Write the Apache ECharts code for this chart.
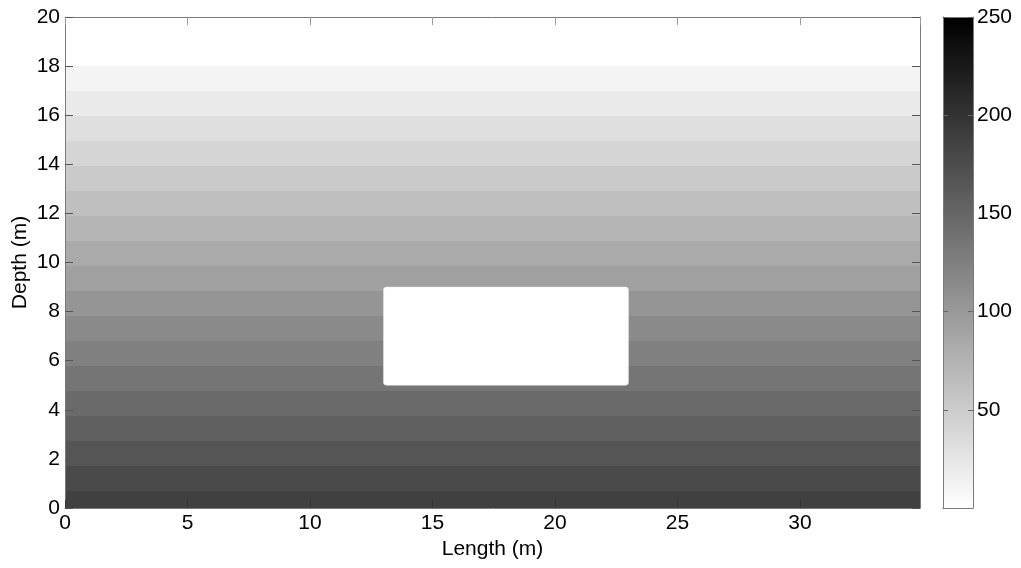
<!DOCTYPE html>
<html>
<head>
<meta charset="utf-8">
<script src="https://cdn.jsdelivr.net/npm/echarts@6/dist/echarts.min.js"></script>
<style>
  html, body { margin: 0; padding: 0; background: #fff; }
  #chart { width: 1021px; height: 568px; }
</style>
</head>
<body>
<div id="chart"></div>
<script>
// Section extent (m)
const lengthMax = 34.9;
const depthMax = 20;

// Filled contour bands: depth edges (top to bottom) and band level
const bandEdges = [18.0, 16.99, 15.97, 14.95, 13.93, 12.91, 11.89, 10.88, 9.86, 8.84,
                   7.82, 6.80, 5.78, 4.77, 3.75, 2.73, 1.71, 0.69, 0];
const bandValues = [11, 21, 31, 41, 52, 63, 73, 83, 93, 104,
                    115, 125, 135, 146, 156, 167, 177, 187];

// Empty cavity in the section
const voidLength = [13, 23];
const voidDepth = [5, 9];

// Colour scale
const cbarRange = [0, 250];
const cbarTicks = [50, 100, 150, 200, 250];

const FONT = 'Liberation Sans, Arial, sans-serif';
const FRAME = '#7a7a7a';

function grayOf(v) {
  const t = (v - cbarRange[0]) / (cbarRange[1] - cbarRange[0]);
  const g = Math.max(0, Math.min(255, Math.round(255 * (1 - t))));
  return 'rgb(' + g + ',' + g + ',' + g + ')';
}

const bandData = bandValues.map((v, i) => [0, lengthMax, bandEdges[i], bandEdges[i + 1], v]);
const voidData = [[voidLength[0], voidLength[1], voidDepth[1], voidDepth[0]]];

function rectItem(params, api, style, r) {
  const p0 = api.coord([api.value(0), api.value(2)]);
  const p1 = api.coord([api.value(1), api.value(3)]);
  return {
    type: 'rect',
    shape: { x: p0[0], y: p0[1], width: p1[0] - p0[0], height: p1[1] - p0[1], r: r || 0 },
    style: style
  };
}

const tickLabel = { color: '#000', fontSize: 21, fontFamily: FONT };
const frameLine = { show: true, onZero: false, lineStyle: { color: FRAME, width: 1 } };

const chart = echarts.init(document.getElementById('chart'), null, { renderer: 'canvas' });
chart.setOption({
  animation: false,
  backgroundColor: '#fff',
  grid: [
    { left: 65, right: 101, top: 17, bottom: 60, show: false, containLabel: false, outerBoundsMode: 'none' },
    { left: 943, width: 30, top: 17, bottom: 60, show: false, containLabel: false, outerBoundsMode: 'none' }
  ],
  xAxis: [
    {
      gridIndex: 0, type: 'value', min: 0, max: lengthMax, interval: 5, position: 'bottom', z: 11,
      name: 'Length (m)', nameLocation: 'middle', nameGap: 29,
      nameTextStyle: { color: '#000', fontSize: 21, fontFamily: FONT },
      axisLine: frameLine,
      axisTick: { show: true, inside: true, length: 8, lineStyle: { color: '#333' } },
      axisLabel: Object.assign({ margin: 5, showMaxLabel: false }, tickLabel),
      splitLine: { show: false }
    },
    {
      gridIndex: 0, type: 'value', min: 0, max: lengthMax, interval: 5, position: 'top', z: 11,
      axisLine: frameLine,
      axisTick: { show: true, inside: true, length: 8, lineStyle: { color: '#999' } },
      axisLabel: { show: false },
      splitLine: { show: false }
    },
    {
      gridIndex: 1, type: 'value', min: 0, max: 1, position: 'bottom', z: 11,
      axisLine: frameLine, axisTick: { show: false }, axisLabel: { show: false }, splitLine: { show: false }
    },
    {
      gridIndex: 1, type: 'value', min: 0, max: 1, position: 'top', z: 11,
      axisLine: frameLine, axisTick: { show: false }, axisLabel: { show: false }, splitLine: { show: false }
    }
  ],
  yAxis: [
    {
      gridIndex: 0, type: 'value', min: 0, max: depthMax, interval: 2, position: 'left', z: 11,
      name: 'Depth (m)', nameLocation: 'middle', nameGap: 34, nameRotate: 90, nameMoveOverlap: false,
      nameTextStyle: { color: '#000', fontSize: 21, fontFamily: FONT },
      axisLine: frameLine,
      axisTick: { show: true, inside: true, length: 8, lineStyle: { color: '#555' } },
      axisLabel: Object.assign({ margin: 5 }, tickLabel),
      splitLine: { show: false }
    },
    {
      gridIndex: 0, type: 'value', min: 0, max: depthMax, interval: 2, position: 'right', z: 11,
      axisLine: frameLine,
      axisTick: { show: true, inside: true, length: 8, lineStyle: { color: '#555' } },
      axisLabel: { show: false },
      splitLine: { show: false }
    },
    {
      gridIndex: 1, type: 'value', min: cbarRange[0], max: cbarRange[1], position: 'right', z: 11,
      axisLine: frameLine,
      axisTick: { show: true, inside: true, length: 5, customValues: cbarTicks, lineStyle: { color: '#666' } },
      axisLabel: Object.assign({ margin: 4, customValues: cbarTicks }, tickLabel),
      splitLine: { show: false }
    },
    {
      gridIndex: 1, type: 'value', min: cbarRange[0], max: cbarRange[1], position: 'left', z: 11,
      axisLine: frameLine,
      axisTick: { show: true, inside: true, length: 5, customValues: cbarTicks, lineStyle: { color: '#666' } },
      axisLabel: { show: false },
      splitLine: { show: false }
    }
  ],
  series: [
    {
      type: 'custom', name: 'bands', xAxisIndex: 0, yAxisIndex: 0, z: 1,
      data: bandData,
      encode: { x: [0, 1], y: [2, 3] },
      renderItem: (params, api) => rectItem(params, api, { fill: grayOf(api.value(4)) })
    },
    {
      type: 'custom', name: 'void', xAxisIndex: 0, yAxisIndex: 0, z: 2,
      data: voidData,
      encode: { x: [0, 1], y: [2, 3] },
      renderItem: (params, api) => rectItem(params, api, { fill: '#fff', stroke: '#e8e8e8', lineWidth: 0.5 }, 3)
    },
    {
      type: 'custom', name: 'colorbar', xAxisIndex: 2, yAxisIndex: 2, z: 1,
      data: [[0, 1, cbarRange[1], cbarRange[0]]],
      encode: { x: [0, 1], y: [2, 3] },
      renderItem: (params, api) => rectItem(params, api, {
        fill: new echarts.graphic.LinearGradient(0, 0, 0, 1, [
          { offset: 0, color: grayOf(cbarRange[1]) },
          { offset: 1, color: grayOf(cbarRange[0]) }
        ])
      })
    }
  ]
});
</script>
</body>
</html>
